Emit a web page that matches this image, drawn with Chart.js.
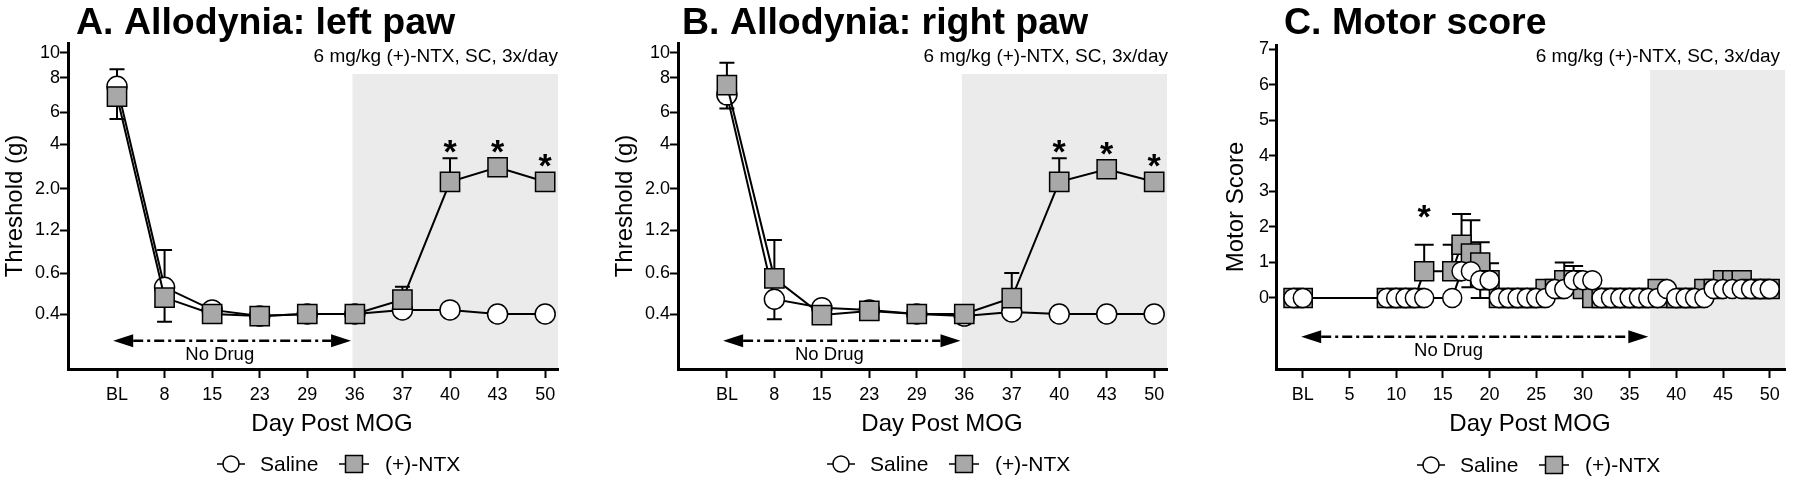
<!DOCTYPE html>
<html><head><meta charset="utf-8">
<script src="https://cdn.jsdelivr.net/npm/chart.js@4.4.1/dist/chart.umd.min.js"></script>
<style>
html,body{margin:0;padding:0;background:#fff;}
#wrap{position:relative;width:1800px;height:477px;overflow:hidden;background:#fff;}
.pane{position:absolute;top:0;height:477px;}
canvas{display:block;}
</style></head><body>
<div id="wrap">
<div class="pane" style="left:0px;width:600px"><canvas id="cA" width="600" height="477" style="width:600px;height:477px"></canvas></div>
<div class="pane" style="left:610px;width:590px"><canvas id="cB" width="590" height="477" style="width:590px;height:477px"></canvas></div>
<div class="pane" style="left:1200px;width:600px"><canvas id="cC" width="600" height="477" style="width:600px;height:477px"></canvas></div>
</div>
<script>
// ---------------- DATA ----------------
const dayLabelsAB = ['BL','8','15','23','29','36','37','40','43','50'];
const thresholdTicks = [0.4, 0.6, 1.2, 2.0, 4, 6, 8, 10];
const thresholdTickLabels = ['0.4','0.6','1.2','2.0','4','6','8','10'];

// Panel A: left paw (g)
const salineA      = [7.5, 0.53, 0.42, 0.39, 0.40, 0.40, 0.42, 0.42, 0.40, 0.40];
const ntxA         = [6.9, 0.48, 0.40, 0.39, 0.40, 0.40, 0.47, 2.31, 2.96, 2.31];
const salineA_hi   = [null, 0.92, null, null, null, null, null, null, null, null];
const salineA_lo   = [null, 0.362, null, null, null, null, null, null, null, null];
const ntxA_hi      = [8.67, null, null, null, null, null, 0.533, 3.36, null, null];
const ntxA_lo      = [5.56, null, null, null, null, null, null, null, null, null];
const sigA         = ['40','43','50'];

// Panel B: right paw (g)
const salineB      = [7.0, 0.472, 0.431, 0.42, 0.40, 0.39, 0.41, 0.40, 0.40, 0.40];
const ntxB         = [7.57, 0.574, 0.395, 0.415, 0.40, 0.40, 0.478, 2.31, 2.87, 2.31];
const salineB_hi   = [null, null, null, null, null, null, null, null, null, null];
const salineB_lo   = [6.2, 0.374, null, null, null, null, null, null, null, null];
const ntxB_hi      = [9.2, 1.06, null, null, null, null, 0.60, 3.36, null, null];
const ntxB_lo      = [null, null, null, null, null, null, null, null, null, null];
const sigB         = ['40','43','50'];

// Panel C: motor score by day (BL = day 0)
const motorDays   = [-1, 0, 9, 10, 11, 12, 13, 16, 17, 18, 19, 20, 21, 22, 23, 24, 25, 26, 27, 28, 29, 30, 31, 32, 33, 34, 35, 36, 37, 38, 39, 40, 41, 42, 43, 44, 45, 46, 47, 48, 49, 50];
const salineMotor = [0, 0, 0, 0, 0, 0, 0, 0, 0.75, 0.75, 0.5, 0.5, 0, 0, 0, 0, 0, 0, 0.25, 0.25, 0.5, 0.5, 0.5, 0, 0, 0, 0, 0, 0, 0, 0.25, 0, 0, 0, 0, 0.25, 0.25, 0.25, 0.25, 0.25, 0.25, 0.25];
const ntxMotor    = [0, 0, 0, 0, 0, 0, 0.75, 0.75, 1.5, 1.25, 1.0, 0.5, 0, 0, 0, 0, 0, 0.25, 0.25, 0.5, 0.5, 0.25, 0, 0, 0, 0, 0, 0, 0, 0.25, 0, 0, 0, 0, 0.25, 0.25, 0.5, 0.5, 0.5, 0.25, 0.25, 0.25];
const salineMotorHi = {};
const salineMotorLo = {18: 0.3, 19: 0};
const ntxMotorHi    = {13: 1.5, 16: 1.5, 17: 2.36, 18: 2.19, 19: 1.57, 20: 0.98, 28: 1.0, 29: 0.9, 45: 0.75, 46: 0.75};
const ntxMotorLo    = {};
const sigC          = [13];
const motorTicks    = [0, 5, 10, 15, 20, 25, 30, 35, 40, 45, 50];

// ---------------- SETUP ----------------
const FONT = "'Liberation Sans', Arial, Helvetica, sans-serif";
Chart.defaults.font.family = FONT;
Chart.defaults.color = '#000';
Chart.defaults.animation = false;

// Non-linear threshold axis: tick stops in axis units (height above x axis)
const thresholdStops = [55, 96, 139, 180.3, 225, 257, 291.3, 316.3];
function toAxis(g) {
  if (g == null) return null;
  const v = thresholdTicks, s = thresholdStops;
  let i = 0;
  while (i < v.length - 2 && g > v[i + 1]) i++;
  const t = (g - v[i]) / (v[i + 1] - v[i]);
  return s[i] + t * (s[i + 1] - s[i]);
}

const cfgs = {};
function drawArrow(ctx, x1, x2, y) {
  const L = 20, H = 6.5;
  ctx.save();
  ctx.strokeStyle = '#000'; ctx.fillStyle = '#000'; ctx.lineWidth = 2.5;
  ctx.setLineDash([10, 4, 3, 4]);
  ctx.beginPath(); ctx.moveTo(x1 + L, y); ctx.lineTo(x2 - L, y); ctx.stroke();
  ctx.setLineDash([]);
  ctx.beginPath(); ctx.moveTo(x1, y); ctx.lineTo(x1 + L, y - H); ctx.lineTo(x1 + L, y + H); ctx.closePath(); ctx.fill();
  ctx.beginPath(); ctx.moveTo(x2, y); ctx.lineTo(x2 - L, y - H); ctx.lineTo(x2 - L, y + H); ctx.closePath(); ctx.fill();
  ctx.restore();
}
function legend(ctx, y) {
  ctx.save();
  ctx.strokeStyle = '#000'; ctx.lineWidth = 1.5;
  ctx.beginPath(); ctx.moveTo(217, y); ctx.lineTo(245, y); ctx.stroke();
  ctx.beginPath(); ctx.arc(231, y, 8, 0, Math.PI * 2); ctx.fillStyle = '#fff'; ctx.fill(); ctx.stroke();
  ctx.beginPath(); ctx.moveTo(339, y); ctx.lineTo(369, y); ctx.stroke();
  ctx.fillStyle = '#a8a8a8'; ctx.fillRect(345.5, y - 8.5, 17, 17); ctx.strokeRect(345.5, y - 8.5, 17, 17);
  ctx.fillStyle = '#000'; ctx.font = '21px ' + FONT; ctx.textBaseline = 'middle'; ctx.textAlign = 'left';
  ctx.fillText('Saline', 260, y + 1);
  ctx.fillText('(+)-NTX', 385, y + 1);
  ctx.restore();
}

const decor = {
  id: 'decor',
  beforeDraw(chart) {
    const c = cfgs[chart.canvas.id]; if (!c) return;
    const {ctx, chartArea: a} = chart; const xs = chart.scales.x;
    const x0 = xs.getPixelForValue(c.shadeFrom);
    ctx.save(); ctx.fillStyle = '#ebebeb';
    ctx.fillRect(x0, c.shadeTop, a.right - x0, a.bottom - c.shadeTop);
    ctx.restore();
  },
  beforeDatasetsDraw(chart) {
    const c = cfgs[chart.canvas.id]; if (!c) return;
    const {ctx} = chart; const ys = chart.scales.y;
    ctx.save(); ctx.strokeStyle = '#000'; ctx.lineWidth = 2;
    chart.data.datasets.forEach((ds, di) => {
      const meta = chart.getDatasetMeta(di);
      ['errHi', 'errLo'].forEach(k => {
        const arr = ds[k]; if (!arr) return;
        arr.forEach((v, j) => {
          if (v == null) return;
          const p = meta.data[j]; const yy = ys.getPixelForValue(v);
          ctx.beginPath(); ctx.moveTo(p.x, p.y); ctx.lineTo(p.x, yy);
          ctx.moveTo(p.x - c.cap / 2, yy); ctx.lineTo(p.x + c.cap / 2, yy); ctx.stroke();
        });
      });
    });
    ctx.restore();
  },
  afterDatasetsDraw(chart) {
    const c = cfgs[chart.canvas.id]; if (!c) return;
    const {ctx} = chart; const ys = chart.scales.y;
    const ds = chart.data.datasets[c.sigDataset]; const meta = chart.getDatasetMeta(c.sigDataset);
    ctx.save(); ctx.fillStyle = '#000'; ctx.font = 'bold 34px ' + FONT; ctx.textAlign = 'center'; ctx.textBaseline = 'alphabetic';
    c.sigIdx.forEach(j => {
      const p = meta.data[j];
      let top = p.y - c.half;
      if (ds.errHi && ds.errHi[j] != null) top = Math.min(top, ys.getPixelForValue(ds.errHi[j]));
      const cy = top - c.starGap;
      ctx.fillText('*', p.x, cy + 19);
    });
    ctx.restore();
  },
  afterDraw(chart) {
    const c = cfgs[chart.canvas.id]; if (!c) return;
    const {ctx, chartArea: a} = chart; const xs = chart.scales.x;
    ctx.save(); ctx.fillStyle = '#000';
    ctx.font = 'bold 37.5px ' + FONT; ctx.textAlign = 'left'; ctx.textBaseline = 'alphabetic';
    ctx.fillText(c.title, c.titleX, 34);
    ctx.font = '19px ' + FONT; ctx.textAlign = 'right';
    ctx.fillText('6 mg/kg (+)-NTX, SC, 3x/day', a.right + c.noteDx, 62);
    drawArrow(ctx, xs.getPixelForValue(c.arrowFrom), xs.getPixelForValue(c.arrowTo), c.arrowY);
    ctx.font = '18.5px ' + FONT; ctx.textAlign = 'center';
    ctx.fillText('No Drug', xs.getPixelForValue(c.noDrugAt), c.arrowY + 19);
    ctx.font = '24px ' + FONT; ctx.textAlign = 'center';
    ctx.fillText('Day Post MOG', c.xTitleX, 431);
    ctx.restore();
    legend(ctx, c.legendY);
  }
};

function axisStyle() {
  return {
    grid: {drawOnChartArea: false, drawTicks: true, tickLength: 8, tickWidth: 2, tickColor: '#000'},
    border: {display: true, color: '#000', width: 3}
  };
}

function thresholdChart(id, sal, ntx, salHi, salLo, ntxHi, ntxLo, sig, extra) {
  const toPts = arr => arr.map((v, i) => ({x: i, y: toAxis(v)}));
  const idx = sig.map(s => dayLabelsAB.indexOf(s));
  cfgs[id] = Object.assign({
    shadeFrom: 4.95, shadeTop: 74, cap: 15, half: 9.6, starGap: 14, sigDataset: 0, sigIdx: idx,
    arrowFrom: -0.08, arrowTo: 4.92, arrowY: 340.7, noDrugAt: 2.16, xTitleX: 332, legendY: 464, noteDx: 0
  }, extra);
  return new Chart(document.getElementById(id), {
    type: 'line',
    data: {datasets: [
      {label: '(+)-NTX', data: toPts(ntx), errHi: ntxHi.map(toAxis), errLo: ntxLo.map(toAxis),
       borderColor: '#000', borderWidth: 2, pointStyle: 'rect', pointRadius: 13.6, pointHoverRadius: 13.6,
       pointBackgroundColor: '#a8a8a8', pointBorderColor: '#000', pointBorderWidth: 1.5, order: 0, clip: false},
      {label: 'Saline', data: toPts(sal), errHi: salHi.map(toAxis), errLo: salLo.map(toAxis),
       borderColor: '#000', borderWidth: 2, pointStyle: 'circle', pointRadius: 10, pointHoverRadius: 10,
       pointBackgroundColor: '#fff', pointBorderColor: '#000', pointBorderWidth: 1.5, order: 1, clip: false}
    ]},
    options: {
      responsive: false, devicePixelRatio: 1, animation: false,
      layout: {padding: {top: 43, left: 0, right: extra.padRight, bottom: 0}},
      plugins: {legend: {display: false}, tooltip: {enabled: false}, title: {display: false}},
      events: [],
      scales: {
        x: Object.assign(axisStyle(), {
          type: 'linear', min: -1.03, max: 9.27,
          afterBuildTicks: s => { s.ticks = dayLabelsAB.map((_, i) => ({value: i})); },
          afterFit: s => { s.height = 108; },
          ticks: {callback: v => dayLabelsAB[Math.round(v)], font: {size: 18}, color: '#000', padding: 6, maxRotation: 0, autoSkip: false},
          grid: {drawOnChartArea: false, drawTicks: true, tickLength: 9, tickWidth: 2, tickColor: '#000'}
        }),
        y: Object.assign(axisStyle(), {
          type: 'linear', min: 0, max: 326,
          afterBuildTicks: s => { s.ticks = thresholdStops.map(v => ({value: v})); },
          afterFit: s => { s.width = 68; },
          ticks: {callback: (v, i) => thresholdTickLabels[thresholdStops.indexOf(v)], font: {size: 18}, color: '#000', padding: 0, autoSkip: false},
          title: {display: true, text: 'Threshold (g)', font: {size: 24}, color: '#000', padding: {top: 1, bottom: 0}}
        })
      }
    },
    plugins: [decor]
  });
}

thresholdChart('cA', salineA, ntxA, salineA_hi, salineA_lo, ntxA_hi, ntxA_lo, sigA,
  {title: 'A. Allodynia: left paw', titleX: 76, padRight: 42});
thresholdChart('cB', salineB, ntxB, salineB_hi, salineB_lo, ntxB_hi, ntxB_lo, sigB,
  {title: 'B. Allodynia: right paw', titleX: 72, padRight: 33, noteDx: 1});

// Panel C
(function () {
  const pts = arr => arr.map((v, i) => ({x: motorDays[i], y: v}));
  const errs = obj => motorDays.map(d => (obj[d] !== undefined ? obj[d] : null));
  cfgs['cC'] = {
    title: 'C. Motor score', titleX: 84, shadeFrom: 37.2, shadeTop: 70, cap: 19, half: 9.5, starGap: 36,
    sigDataset: 1, sigIdx: sigC.map(d => motorDays.indexOf(d)),
    arrowFrom: -0.17, arrowTo: 37.0, arrowY: 336.7, noDrugAt: 15.6, xTitleX: 330, legendY: 465, noteDx: -5
  };
  new Chart(document.getElementById('cC'), {
    type: 'line',
    data: {datasets: [
      {label: 'Saline', data: pts(salineMotor), errHi: errs(salineMotorHi), errLo: errs(salineMotorLo),
       borderColor: '#000', borderWidth: 2, pointStyle: 'circle', pointRadius: 9.5, pointHoverRadius: 9.5,
       pointBackgroundColor: '#fff', pointBorderColor: '#000', pointBorderWidth: 1.5, order: 0, clip: false},
      {label: '(+)-NTX', data: pts(ntxMotor), errHi: errs(ntxMotorHi), errLo: errs(ntxMotorLo),
       borderColor: '#000', borderWidth: 2, pointStyle: 'rect', pointRadius: 13.4, pointHoverRadius: 13.4,
       pointBackgroundColor: '#a8a8a8', pointBorderColor: '#000', pointBorderWidth: 1.5, order: 1, clip: false}
    ]},
    options: {
      responsive: false, devicePixelRatio: 1, animation: false, events: [],
      layout: {padding: {top: 45, left: 0, right: 5, bottom: 0}},
      plugins: {legend: {display: false}, tooltip: {enabled: false}, title: {display: false}},
      scales: {
        x: Object.assign(axisStyle(), {
          type: 'linear', min: -2.87, max: 51.65,
          afterBuildTicks: s => { s.ticks = motorTicks.map(v => ({value: v})); },
          afterFit: s => { s.height = 108; },
          ticks: {callback: v => (v === 0 ? 'BL' : String(v)), font: {size: 18}, color: '#000', padding: 6, maxRotation: 0, autoSkip: false},
          grid: {drawOnChartArea: false, drawTicks: true, tickLength: 9, tickWidth: 2, tickColor: '#000'}
        }),
        y: Object.assign(axisStyle(), {
          type: 'linear', min: -2, max: 7.12,
          afterBuildTicks: s => { s.ticks = [0, 1, 2, 3, 4, 5, 6, 7].map(v => ({value: v})); },
          afterFit: s => { s.width = 76; },
          ticks: {font: {size: 18}, color: '#000', padding: 0, autoSkip: false},
          grid: {drawOnChartArea: false, drawTicks: true, tickLength: 7, tickWidth: 2, tickColor: '#000'},
          title: {display: true, text: 'Motor Score', font: {size: 24}, color: '#000', padding: {top: 22, bottom: 0}}
        })
      }
    },
    plugins: [decor]
  });
})();
</script>
</body></html>
